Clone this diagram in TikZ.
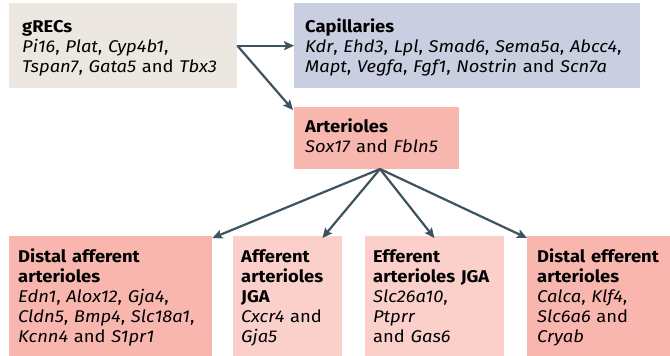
\documentclass[tikz,border=0pt]{standalone}
\usepackage{fontspec}
\setmainfont[FakeStretch=1.08]{Fira Sans}
\usetikzlibrary{arrows.meta}
\definecolor{grecsfill}{HTML}{ECE8E1}
\definecolor{capfill}{HTML}{C9CEE1}
\definecolor{artfill}{HTML}{F8B7AE}
\definecolor{distfill}{HTML}{F8B6AE}
\definecolor{jgafill}{HTML}{FBD0CA}
\definecolor{arrowcol}{HTML}{3E5360}
\begin{document}
\begin{tikzpicture}[x=1pt,y=-1pt,
  boxnode/.style={anchor=north west, inner sep=0pt, draw=none},
  txtnode/.style={anchor=base west, inner sep=0pt, align=left, text width=260pt,
    font=\fontsize{17}{20}\selectfont, text=black},
  conn/.style={draw=arrowcol, line width=2.2pt, -{Stealth[length=10pt,width=9pt,inset=2pt]}}]
\useasboundingbox (0,0) rectangle (670,356);
% boxes
\node[boxnode, fill=grecsfill, minimum width=228pt, minimum height=85pt] (grecs) at (9,3) {};
\node[boxnode, fill=capfill, minimum width=346pt, minimum height=85pt] (cap) at (294,3) {};
\node[boxnode, fill=artfill, minimum width=165pt, minimum height=62pt] (art) at (294,107) {};
\node[boxnode, fill=distfill, minimum width=203pt, minimum height=120pt] (dafa) at (9,236) {};
\node[boxnode, fill=jgafill, minimum width=109pt, minimum height=120pt] (afjga) at (233,236) {};
\node[boxnode, fill=jgafill, minimum width=139pt, minimum height=120pt] (efjga) at (365,236) {};
\node[boxnode, fill=distfill, minimum width=143pt, minimum height=120pt] (defa) at (527,236) {};
% texts
\node[txtnode] (grecst) at (22,32) {\textbf{gRECs}\\\textit{Pi16}, \textit{Plat}, \textit{Cyp4b1},\\\textit{Tspan7}, \textit{Gata5} and \textit{Tbx3}};
\node[txtnode, text width=340pt] (capt) at (305,32) {\textbf{Capillaries}\\\textit{Kdr}, \textit{Ehd3}, \textit{Lpl}, \textit{Smad6}, \textit{Sema5a}, \textit{Abcc4},\\\textit{Mapt}, \textit{Vegfa}, \textit{Fgf1}, \textit{Nostrin} and \textit{Scn7a}};
\node[txtnode] (artt) at (305,132) {\textbf{Arterioles}\\\textit{Sox17} and \textit{Fbln5}};
\node[txtnode] (dafat) at (18,262) {\textbf{Distal afferent}\\\textbf{arterioles}\\\textit{Edn1}, \textit{Alox12}, \textit{Gja4},\\\textit{Cldn5}, \textit{Bmp4}, \textit{Slc18a1},\\\textit{Kcnn4} and \textit{S1pr1}};
\node[txtnode] (afjgat) at (241,262) {\textbf{Afferent}\\\textbf{arterioles}\\\textbf{JGA}\\\textit{Cxcr4} and\\\textit{Gja5}};
\node[txtnode] (efjgat) at (373,262) {\textbf{Efferent}\\\textbf{arterioles JGA}\\\textit{Slc26a10},\\\textit{Ptprr}\\and \textit{Gas6}};
\node[txtnode] (defat) at (537,262) {\textbf{Distal efferent}\\\textbf{arterioles}\\\textit{Calca}, \textit{Klf4},\\\textit{Slc6a6} and\\\textit{Cryab}};
% connectors
\coordinate (artout) at (380,169);
\draw[conn] (grecs.east) -- (cap.west);
\draw[conn] (grecs.east) -- ([xshift=-1pt,yshift=-3pt]art.north west);
\draw[conn] (artout) -- ([yshift=-2pt]dafa.north east);
\draw[conn] (artout) -- ([xshift=-20pt,yshift=-2pt]afjga.north east);
\draw[conn] (artout) -- ([xshift=-70pt,yshift=-2pt]efjga.north east);
\draw[conn] (artout) -- ([yshift=-2pt]defa.north west);
\end{tikzpicture}
\end{document}
